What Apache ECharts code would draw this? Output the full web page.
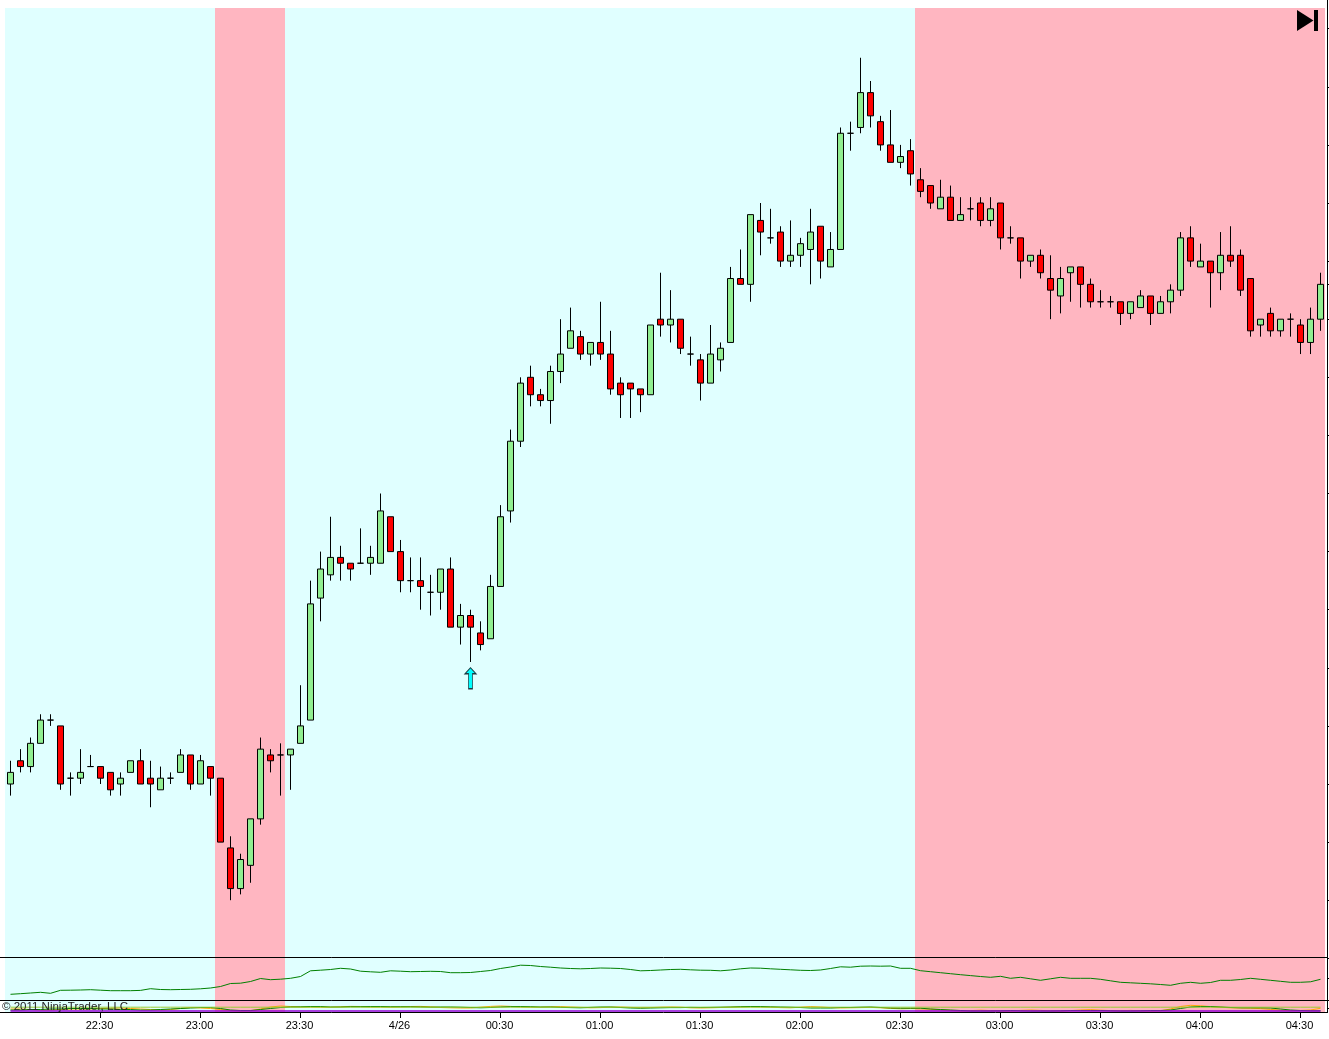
<!DOCTYPE html>
<html>
<head>
<meta charset="utf-8">
<style>html,body{margin:0;padding:0;background:#fff}#c{width:1329px;height:1039px}</style>
<script src="https://cdn.jsdelivr.net/npm/echarts@6/dist/echarts.min.js"></script>
</head>
<body>
<div id="c"></div>
<script>
// Price values are in instrument ticks, counted from the lowest low of the visible range.
const opens = [20,24,23,27,31,30,21,21,23,23, 22,20,22,24,21,19,21,22,25,20, 23,21,9,2,6,14,25,25,25,27,
  31,52,56,59,58,58,58,58,66,60, 55,55,53,53,57,47,49,46,45,54, 67,79,90,87,86,91,95,97,94,96,
  94,89,89,88,87,100,99,100,94,93, 89,93,96,107,106,117,114,115,110,111, 112,116,109,112,132,133,139,134,130,127,
  129,124,123,119,121,117,119,120,117,120, 114,114,110,111,107,104,108,109,106,103, 103,103,101,102,104,101,103,105,114,109,
  110,108,111,111,107,99,101,98,100,99,96,100];
const closes = [22,23,27,31,31,20,21,22,23,21, 19,21,24,20,20,21,21,25,20,24, 21,10,2,7,14,26,24,25,26,30,
  51,57,59,58,57,58,59,67,60,55, 55,54,53,57,47,49,47,44,54,66, 79,89,87,86,91,94,98,94,96,94,
  88,87,88,87,99,99,100,95,94,89, 94,95,107,106,118,115,114,110,111,113, 115,110,112,132,132,139,135,130,127,128,
  125,122,120,121,117,118,119,117,119,114, 114,110,111,108,105,107,109,106,103,103, 103,101,103,104,101,103,105,114,110,110,
  108,111,110,105,98,100,98,100,100,96,100,106];
const lows = [18,22,22,27,30,19,18,20,23,20, 18,18,22,20,16,19,20,22,19,20, 18,10,0,1,3,13,22,18,19,27,
  31,48,55,55,55,58,56,58,60,53, 53,50,49,50,47,44,41,43,45,54, 65,78,85,85,82,89,95,93,92,93,
  87,83,83,84,87,97,96,94,92,86, 89,91,96,106,103,111,113,109,109,109, 106,107,109,112,129,132,133,129,127,126,
  123,121,119,119,117,117,117,116,116,112, 113,107,109,107,100,101,103,102,102,102, 102,99,100,102,99,101,101,104,109,109,
  102,105,109,104,97,97,97,97,97,94,94,98];
const highs = [24,26,28,32,32,30,22,26,25,23, 22,22,24,26,24,23,22,26,25,25, 23,21,11,8,14,28,26,27,26,37,
  55,60,66,61,58,64,61,70,66,62, 59,59,56,57,59,51,50,48,56,68, 81,90,92,88,92,100,102,98,96,103,
  98,90,89,88,99,108,105,100,97,94, 99,96,109,112,118,120,119,116,117,114, 119,116,115,133,134,145,141,135,136,130,
  131,126,123,124,123,121,121,121,121,120, 116,114,111,112,111,109,109,109,107,105, 104,103,103,105,104,104,106,115,116,113,
  110,115,116,112,107,100,102,100,101,100,102,108];

// Middle pane indicator
const upperIndicator = [6.2,6.8,7.5,8.2,7.2,10.2,10.3,10.5,10.8,10.3, 9.8,9.8,9.8,10.1,11.8,11,10.8,11,11.2,11.7,
  12.5,14,17,17.3,19,22,20.8,21.3,22.2,24, 29.7,30.3,31,32.2,31.5,29.3,28.7,28.2,29.7,29.3,
  28.8,29,29.2,29,27.8,27.8,28,29,30,32, 33.5,35.3,35,34,33.3,32.5,32,31.7,32,32.5,
  32.3,32,31,29.7,30,30.5,31,31.2,30.7,30.3, 30.2,29.7,30.5,31.7,32.5,32.3,31.7,31.2,30.7,30.2,
  30,30.5,32,33.7,33.3,34.3,34.5,34.3,34.5,32.2, 32.2,29.8,28.8,27.8,26.8,25.8,24.9,24,23.2,24.2,
  22.2,23.2,21.7,20.2,21.7,23.2,22.2,22.2,22.2,21.2, 19.7,18.2,17.7,17.2,16.7,16,15.2,17.2,18.2,17.2,
  18,20.2,20.2,21,22.2,21.2,20.2,19.2,18.2,18.2,18.7,21.2];

// Bottom pane indicators
const lowerGreen = [2,2,2.5,2.5,3,3,3.5,3.5,3.5,3, 3,2.5,2.5,2,2,2.5,3,3.5,4,4.5,
  4.5,3.5,2,1.5,1.5,2.5,3.5,4.5,5,5.2, 5.5,5.5,5,5,5.3,5.3,5.5,5.5,5.3,5.3,
  5.2,5,4.8,5,5,4.8,4.5,4.2,4.5,5, 5.4,5.5,5.3,5,5,4.6,4.4,4.2,4.6,5,
  5,4.5,4,3.8,4,4.2,4.4,4.4,4.6,4.5, 4.6,4.8,5,5.3,5.5,5.5,5.2,5,4.8,4.5,
  4,4,4,4.5,4.5,4.8,5,4.5,4,3.8, 3.8,3.8,3,2.5,2,1.5,1,1,1,1.2,
  1.5,1.2,1,1,1,1.2,1.5,1.5,1.5,1.5, 1.2,1,1,1.2,1.5,1.5,2,3.5,5,5.5,
  5.5,5,4.5,4.2,4.2,4.2,4,3,2,1.5,1.2,1.2];
const lowerOrange = [3,3,2.5,2,2,2.5,3,3,3,3.5, 3.8,4,3.5,3,2.5,2,2.5,3.5,4.5,4,
  3.5,2.5,1.5,1,1.2,3,5,6,5.5,5, 5,4.8,4.8,5.2,5.6,5.5,5,5,4.8,5,
  5.5,5.6,5.2,4.5,4.2,4,4,4.8,5.6,6, 5.6,5,4.8,4.8,5.2,5.4,5,4.6,4.2,4.4,
  4.8,5,4.6,4.2,4.4,4.8,5,4.8,4.2,4, 4.2,4.5,4.8,5,5.2,5,4.8,4.4,4.2,4.8,
  5.4,5,4.4,4,4.2,4.4,4.6,4.2,3.6,3.2, 3.4,3.2,2.8,2.2,1.6,1,1.4,1.8,1.4,1,
  1,1.6,2,1.6,1.2,1,1.4,2,2.4,1.8, 1.4,1.2,1.6,1.2,1,1.2,3,5.5,6.7,6.2,
  5.4,4.8,4.2,4,3.8,3.4,2.6,1.8,1.4,1.6,2,3.7];
const lowerOlive = 4.8;
const lowerPurple = 0.9;

const tickLabels = ['22:30','23:00','23:30','4/26','00:30','01:00','01:30','02:00','02:30','03:00','03:30','04:00','04:30'];
const firstTickBar = 9, barsPerTick = 10;
const sessionRuns = [['long',21],['short',7],['long',63],['short',41]];
const signalBar = 46, signalLevel = 38.2;

const barCount = opens.length;
const categories = opens.map((_, i) => {
  const k = (i - firstTickBar) / barsPerTick;
  return Number.isInteger(k) && tickLabels[k] ? tickLabels[k] : '';
});
const sessionColors = {long:'#E0FFFF', short:'#FFB6C1'};
const sessionData = [];
sessionRuns.forEach(([s, n]) => { for (let j = 0; j < n; j++) sessionData.push({value:1, itemStyle:{color:sessionColors[s]}}); });
const candleData = opens.map((o, i) => [o, closes[i], lows[i], highs[i]]);
const lastClose = closes[barCount - 1];
const mainTicks = [];
for (let v = -10; v <= 150; v += 10) mainTicks.push(v);
mainTicks.push(lastClose);
const isTick = i => categories[i] !== '';
const hiddenX = {type:'category', data:categories, show:false, boundaryGap:true};
const flat = v => opens.map(() => v);

const chart = echarts.init(document.getElementById('c'), null, {renderer:'canvas'});
chart.setOption({
  animation:false,
  backgroundColor:'#fff',
  textStyle:{fontFamily:'"Liberation Sans", Arial, sans-serif'},
  grid:[
    {left:5, top:8, width:1320, height:1004},
    {left:5.5, top:28.7, width:1320, height:929.6},
    {left:5.5, top:957.5, width:1320, height:43},
    {left:5.5, top:1000.5, width:1320, height:11.5}
  ],
  xAxis:[
    Object.assign({gridIndex:0}, hiddenX),
    Object.assign({gridIndex:1}, hiddenX),
    Object.assign({gridIndex:2}, hiddenX),
    {gridIndex:3, type:'category', data:categories, boundaryGap:true,
     axisLine:{show:false},
     axisTick:{show:true, alignWithLabel:true, interval:(i)=>isTick(i), length:6, inside:false, lineStyle:{color:'#000', width:1}},
     axisLabel:{show:true, interval:(i)=>isTick(i), color:'#000', fontSize:11, margin:8, padding:[0,2,0,0], fontFamily:'"Liberation Sans", Arial, sans-serif'},
     splitLine:{show:false}}
  ],
  yAxis:[
    {gridIndex:0, type:'value', min:0, max:1, position:'right', splitLine:{show:false},
     axisLine:{show:false}, axisTick:{show:false}, axisLabel:{show:false}},
    {gridIndex:1, type:'value', min:-10, max:150, interval:10, position:'right', offset:1.5, splitLine:{show:false},
     axisLine:{show:false}, axisTick:{show:true, length:3, customValues:mainTicks, lineStyle:{color:'#000'}}, axisLabel:{show:false}},
    {gridIndex:2, type:'value', min:0, max:43, position:'right', offset:1.5, splitLine:{show:false},
     axisLine:{show:false}, axisTick:{show:true, length:3, customValues:[0,22.2], lineStyle:{color:'#000'}}, axisLabel:{show:false}},
    {gridIndex:3, type:'value', min:0, max:11.5, position:'right', offset:1.5, splitLine:{show:false},
     axisLine:{show:false}, axisTick:{show:true, length:3, customValues:[4], lineStyle:{color:'#000'}}, axisLabel:{show:false}}
  ],
  series:[
    {type:'bar', xAxisIndex:0, yAxisIndex:0, data:sessionData, barWidth:'100%', barCategoryGap:'0%', silent:true, z:0},
    {type:'candlestick', xAxisIndex:1, yAxisIndex:1, data:candleData, barWidth:6, z:3,
     itemStyle:{color:'#90EE90', color0:'#FF0000', borderColor:'#000', borderColor0:'#000', borderColorDoji:'#000', borderWidth:1}},
    {type:'scatter', xAxisIndex:1, yAxisIndex:1, data:[[signalBar, signalLevel]], z:4,
     symbol:'path://M5.5 0 L11 6 L7.5 6 L7.5 21 L3.5 21 L3.5 6 L0 6 Z', symbolSize:[11,21],
     itemStyle:{color:'#00FFFF', borderColor:'#1a3a44', borderWidth:1, opacity:1}},
    {type:'line', xAxisIndex:2, yAxisIndex:2, data:upperIndicator, showSymbol:false, z:3,
     lineStyle:{color:'#008000', width:1}},
    {type:'line', xAxisIndex:3, yAxisIndex:3, data:lowerOrange, showSymbol:false, z:3,
     lineStyle:{color:'#FFA500', width:1}},
    {type:'line', xAxisIndex:3, yAxisIndex:3, data:lowerGreen, showSymbol:false, z:3,
     lineStyle:{color:'#008000', width:1}},
    {type:'line', xAxisIndex:3, yAxisIndex:3, data:flat(lowerPurple), showSymbol:false, z:3,
     lineStyle:{color:'#9400D3', width:1.5}},
    {type:'line', xAxisIndex:3, yAxisIndex:3, data:flat(lowerOlive), showSymbol:false, z:4,
     lineStyle:{color:'#9ACD32', width:1}}
  ],
  graphic:[
    {type:'line', z:10, silent:true, shape:{x1:0,y1:957.5,x2:1327,y2:957.5}, style:{stroke:'#000', lineWidth:1}},
    {type:'line', z:10, silent:true, shape:{x1:0,y1:1000.5,x2:1327,y2:1000.5}, style:{stroke:'#000', lineWidth:1}},
    {type:'line', z:10, silent:true, shape:{x1:0,y1:1012.5,x2:1327,y2:1012.5}, style:{stroke:'#000', lineWidth:1}},
    {type:'rect', z:10, silent:true, shape:{x:1327,y:0,width:1,height:1013}, style:{fill:'#000'}},
    {type:'polygon', z:10, silent:true, shape:{points:[[1297,10],[1313.5,20.5],[1297,31]]}, style:{fill:'#000'}},
    {type:'rect', z:10, silent:true, shape:{x:1314,y:10,width:4,height:21}, style:{fill:'#000'}},
    {type:'text', z:11, silent:true, x:2, y:1001, style:{text:'© 2011 NinjaTrader, LLC', fill:'#222', font:'11.5px "Liberation Sans", Arial, sans-serif'}}
  ]
});
</script>
</body>
</html>
